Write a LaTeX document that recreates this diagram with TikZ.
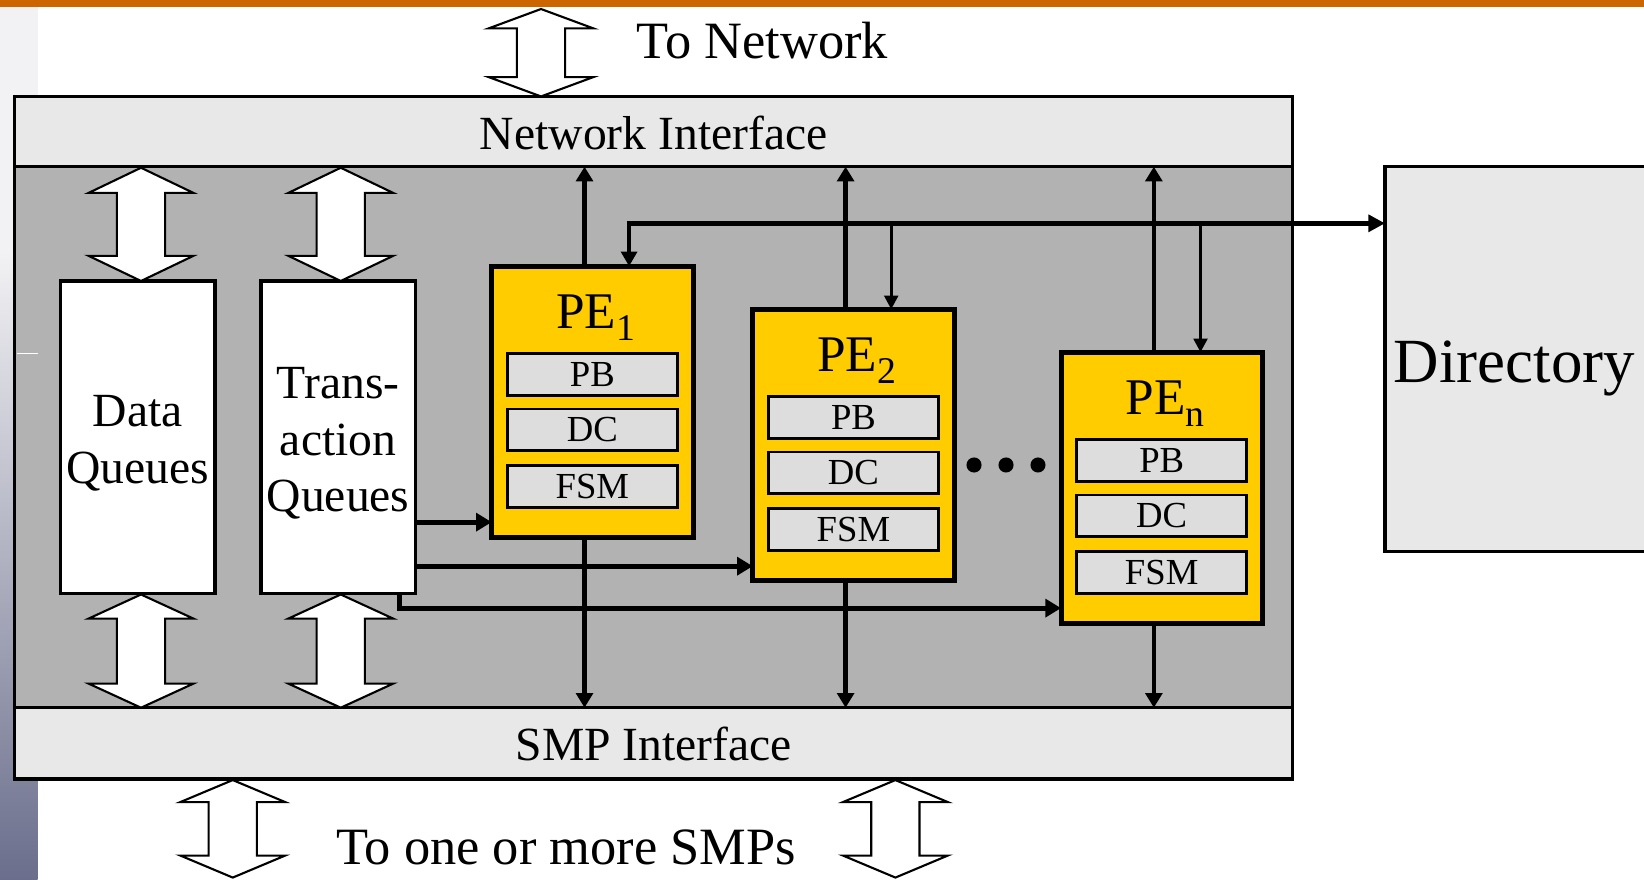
\documentclass[tikz,border=0pt]{standalone}
\usepackage{fontspec}
\setmainfont{Liberation Serif}
\usetikzlibrary{arrows.meta,calc}

\definecolor{slideorange}{HTML}{CC6600}
\definecolor{bandgray}{HTML}{E8E8E8}
\definecolor{coregray}{HTML}{B2B2B2}
\definecolor{peyellow}{HTML}{FFCC00}
\definecolor{subgray}{HTML}{DDDDDD}
\definecolor{striplight}{HTML}{F2F2F4}
\definecolor{stripdark}{HTML}{6B6E8C}

% two-headed block arrow: x centre, top tip y, bottom tip y, head length
\newcommand\twoway[4]{%
  \draw[blockarrow] (#1,#2) -- (#1+50,#2+#4) -- (#1+23,#2+#4) -- (#1+23,#3-#4)
    -- (#1+50,#3-#4) -- (#1,#3) -- (#1-50,#3-#4) -- (#1-23,#3-#4)
    -- (#1-23,#2+#4) -- (#1-50,#2+#4) -- cycle;}

\begin{document}
\begin{tikzpicture}[x=0.5pt,y=-0.5pt,
  cellbox/.style={draw, inner sep=0pt, outer sep=0pt},
  bandbox/.style={cellbox, line width=1.6pt, fill=bandgray, minimum width=609.5pt},
  queuebox/.style={cellbox, line width=1.6pt, fill=white, minimum width=73.5pt, minimum height=149pt},
  pebox/.style={cellbox, line width=2.4pt, fill=peyellow, minimum width=96pt, minimum height=129.5pt, anchor=north west},
  subbox/.style={cellbox, line width=1.3pt, fill=subgray, minimum width=81pt, minimum height=20pt, anchor=north west, font=\fontsize{17.5}{20}\selectfont},
  blockarrow/.style={draw, fill=white, line width=1pt, line join=miter},
  pelink/.style={line width=2.1pt, -{Triangle[length=7pt,width=8pt]}},
  busline/.style={line width=2.1pt, line join=miter},
  dropline/.style={line width=1.5pt, -{Triangle[length=6.5pt,width=6.5pt]}},
  feedline/.style={line width=2.4pt, line join=miter, -{Triangle[length=7.5pt,width=8.5pt]}},
  biglabel/.style={font=\fontsize{25}{28}\selectfont, inner sep=0pt},
  bandlabel/.style={font=\fontsize{22.7}{27}\selectfont},
]
\useasboundingbox (0,0) rectangle (1568,839);
\fill[white] (0,0) rectangle (1568,839);

% slide decoration: left strip and top rule
\fill[striplight] (0,6) rectangle (36,240);
\shade[top color=striplight, bottom color=stripdark] (0,240) rectangle (36,839);
\fill[slideorange] (0,0) rectangle (1568,6.5);

% interface bands and the core area
\node[bandbox, minimum height=33.5pt] (ni) at (623.5,125.5) {};
\node[bandbox, fill=coregray, minimum height=258pt] (core) at (623.5,417) {};
\node[bandbox, minimum height=34pt] (smp) at (623.5,709) {};
\draw[white, line width=0.5pt] (16,337) -- (36,337);
\node[bandlabel, anchor=base] (nilabel) at (623.5,143) {Network Interface};
\node[bandlabel, anchor=base] (smplabel) at (623.5,725.5) {SMP Interface};

% directory
\node[cellbox, line width=1.6pt, fill=bandgray, anchor=north west,
      minimum width=140pt, minimum height=183.5pt] (dir) at (1321,159) {};
\node[anchor=base west, inner sep=0pt, font=\fontsize{30}{34}\selectfont] (dirlabel) at (1329,365) {Directory};

% queues
\node[queuebox] (dq) at (131.5,417) {};
\node[queuebox] (tq) at (322.5,417) {};
\node[bandlabel, align=center] (dqlabel) at ([yshift=-3pt]dq.center) {Data\\Queues};
\node[bandlabel, align=center] (tqlabel) at ([yshift=-3pt]tq.center) {Trans-\\action\\Queues};

% block arrows
\twoway{516}{8.6}{92}{18.5}
\twoway{134.5}{160}{268}{24}
\twoway{325}{160}{268}{24}
\twoway{134.5}{567}{675}{23}
\twoway{325}{567}{675}{23}
\twoway{222}{744}{837}{21}
\twoway{854}{744}{837}{21}
\node[biglabel, anchor=base west] (tonet) at (607,56) {To Network};
\node[biglabel, anchor=base] (tosmp) at (540,825) {To one or more SMPs};

% protocol engines
\node[pebox] (pe1) at (469,254) {};
\node[pebox] (pe2) at (718,295) {};
\node[pebox] (pen) at (1012,336) {};

% links from each engine to both interfaces
\foreach \p in {pe1,pe2,pen} {
  \coordinate (\p-up) at ([xshift=-3.75pt]\p.north);
  \coordinate (\p-dn) at ([xshift=-3.75pt]\p.south);
  \draw[pelink] (\p-up) -- (\p-up |- ni.south);
  \draw[pelink] (\p-dn) -- (\p-dn |- smp.north);
}

% directory bus
\coordinate (busy) at (0,213);
\coordinate (pe1-tap) at ([xshift=17.5pt]pe1.north);
\coordinate (pe2-tap) at ([xshift=18pt]pe2.north);
\coordinate (pen-tap) at ([xshift=18.5pt]pen.north);
\draw[busline, {Triangle[length=7pt,width=7.5pt]}-{Triangle[length=8pt,width=8pt]}]
  (pe1-tap) -- (pe1-tap |- busy) -- (dir.west |- busy);
\draw[dropline] (pe2-tap |- busy) -- (pe2-tap);
\draw[dropline] (pen-tap |- busy) -- (pen-tap);

% transaction queue feeds
\coordinate (f1) at ([yshift=34pt]tq.south east);
\coordinate (f2) at ([yshift=13pt]tq.south east);
\coordinate (f3) at ([xshift=-7.5pt]tq.south east);
\coordinate (f3y) at ([yshift=-7pt]tq.south east);
\draw[feedline] (f1) -- (f1 -| pe1.west);
\draw[feedline] (f2) -- (f2 -| pe2.west);
\draw[feedline] (f3) |- (f3y -| pen.west);

% redraw engines on top of the wiring, with their units
\foreach \p/\s in {pe1/1,pe2/2,pen/n} {
  \node[pebox] at (\p.north west) {};
  \node[subbox] (\p-pb) at ([xshift=7.5pt,yshift=-41.5pt]\p.north west) {PB};
  \node[subbox] (\p-dc) at ([xshift=7.5pt,yshift=-68pt]\p.north west) {DC};
  \node[subbox] (\p-fsm) at ([xshift=7.5pt,yshift=-95pt]\p.north west) {FSM};
  \node[anchor=base, font=\fontsize{24.5}{28}\selectfont] (\p-label)
    at ([xshift=1.5pt,yshift=-29.5pt]\p.north) {PE\raisebox{-6pt}{\fontsize{18}{18}\selectfont\s}};
}

% ellipsis between engines
\foreach \x in {929,959.5,990} \fill (\x,443.5) circle[radius=3.6pt];
\end{tikzpicture}
\end{document}
